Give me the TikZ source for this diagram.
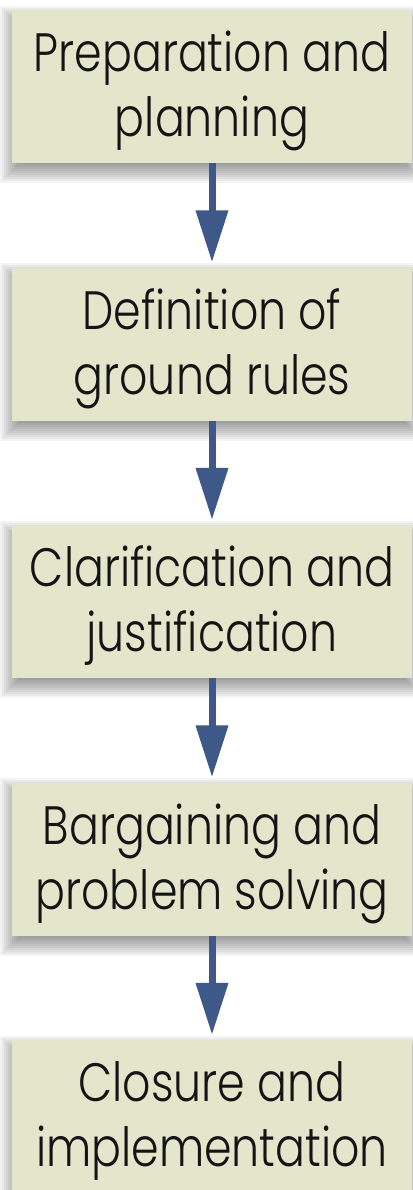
\documentclass[tikz,border=0pt]{standalone}
\usepackage{fontspec}
\setmainfont{Poppins Light}[FakeStretch=0.82]
\usetikzlibrary{arrows.meta,backgrounds}
\definecolor{boxfill}{RGB}{227,230,203}
\definecolor{arrowblue}{RGB}{62,88,135}
\newcommand\twolines[2]{\rule{0pt}{50pt}#1\\#2\rule[-15pt]{0pt}{15pt}}
\newcommand\softshadow[1]{%
  \foreach \e in {-12,-10,...,12}{%
    \fill[black, opacity=0.045]
      ([xshift=-\e pt, yshift=-8pt-\e pt]#1.south west) rectangle
      ([xshift=\e pt, yshift=-8pt+\e pt]#1.north east);
  }}
\tikzset{
  stepbox/.style={rectangle, fill=boxfill, draw=none, minimum width=400pt, minimum height=153pt,
    inner sep=0pt, align=center, text=black!92,
    font=\fontsize{54pt}{65pt}\selectfont},
  flowarrow/.style={draw=arrowblue, line width=7pt, -{Triangle[width=31pt,length=52pt]}, arrowblue, shorten >=5pt}
}
\begin{document}
\begin{tikzpicture}[x=1pt,y=1pt]
\useasboundingbox (0,0) rectangle (412,-1190);
\node[stepbox] (b1) at (212,-86.5) {\twolines{Preparation and}{planning}};
\node[stepbox] (b2) at (212,-344) {\twolines{Definition of}{ground rules}};
\node[stepbox] (b3) at (212,-601.5) {\twolines{Clarification and}{justification}};
\node[stepbox] (b4) at (212,-859) {\twolines{Bargaining and}{problem solving}};
\node[stepbox] (b5) at (212,-1116.5) {\twolines{Closure and}{implementation}};
\begin{scope}[on background layer]
  \fill[white] (0,0) rectangle (412,-1190);
  \softshadow{b1}\softshadow{b2}\softshadow{b3}\softshadow{b4}\softshadow{b5}
\end{scope}
\draw[flowarrow] (b1.south) -- (b2.north);
\draw[flowarrow] (b2.south) -- (b3.north);
\draw[flowarrow] (b3.south) -- (b4.north);
\draw[flowarrow] (b4.south) -- (b5.north);
\end{tikzpicture}
\end{document}
